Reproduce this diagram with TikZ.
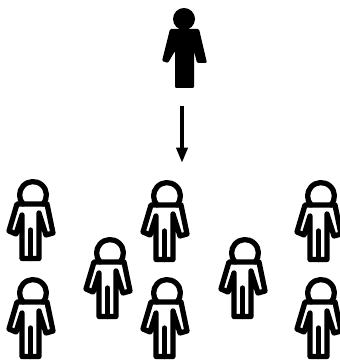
\documentclass[tikz,border=0pt]{standalone}
\usetikzlibrary{arrows.meta}
\tikzset{
	outline/.style={line width=3pt, line join=round, line cap=round},
	leader/.pic={
		\fill (0,0) circle (11);
		\fill[rounded corners=0.7pt] (-14,-10) -- (15,-10) -- (23,-44) -- (13,-44) -- (10,-32) -- (10,-69) -- (-9,-69) -- (-9,-32) -- (-16,-44) -- (-22,-42) -- cycle;
	},
	follower/.pic={
		\draw[outline] (-42:13.4) arc (-42:222:13.4);
		\draw[outline] (-16,-9) -- (14,-9) -- (20,-38) -- (13,-40) -- (6,-18) -- (6,-63.5) -- (-11,-63.5) -- (-11,-20) -- (-17,-39) -- (-24,-36) -- cycle;
		\draw[outline] (-2.5,-35) -- (-2.5,-63.5);
	}
}
\begin{document}
\begin{tikzpicture}[x=0.02cm, y=0.02cm]
	\useasboundingbox (0,0) rectangle (340,361);
	\fill[white] (0,0) rectangle (340,361);
	\pic at (184,342) {leader};
	% the group below
	\foreach \x/\y in {33/166,33/68,167/165,167/68,110/108,245/108,321/165,321/68} {
		\pic at (\x,\y) {follower};
	}
	\coordinate (arrowtop) at (182,255);
	\coordinate (arrowend) at (182,198);
	\draw[-{Triangle[length=8.7pt,width=6.2pt]}, line width=2.8pt] (arrowtop) -- (arrowend);
\end{tikzpicture}
\end{document}
